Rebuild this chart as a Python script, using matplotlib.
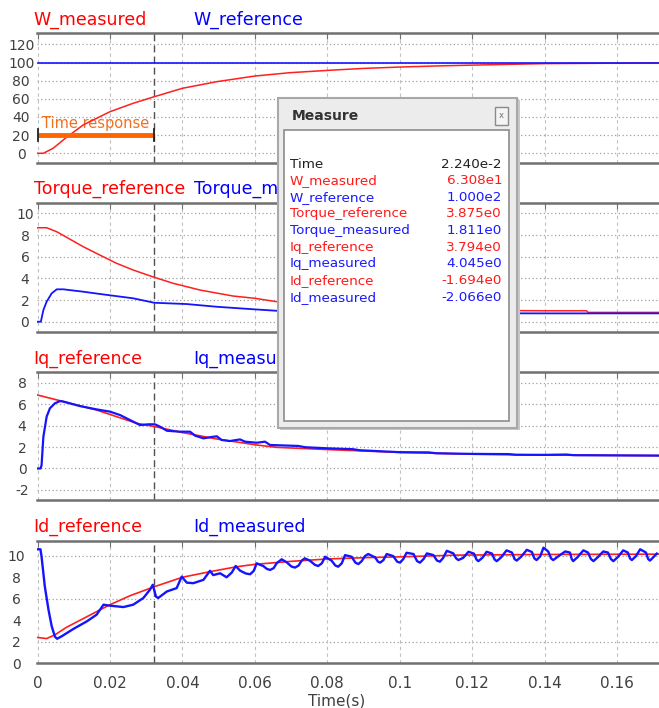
import matplotlib
matplotlib.use("Agg")
import matplotlib.pyplot as plt
from matplotlib.patches import Rectangle

# ---------------- data ----------------
# Speed loop
w_meas_t = [0, 0.0016, 0.0043, 0.008, 0.0126, 0.0172, 0.02, 0.0264, 0.0322, 0.04,
            0.0495, 0.06, 0.0697, 0.0808, 0.09, 0.1, 0.11, 0.122, 0.14, 0.172]
w_meas_v = [0, 0, 5.5, 17.6, 31.2, 40.3, 45.8, 55.1, 62.3, 71.6,
            78.9, 85.1, 88.8, 91.5, 93.5, 95.0, 96.2, 97.3, 98.8, 99.6]
w_ref_t = [0, 0.172]
w_ref_v = [100, 100]

# Torque
torque_ref_t = [0, 0.0025, 0.0053, 0.008, 0.0126, 0.0172, 0.0218, 0.0264, 0.0322, 0.0375,
                0.0449, 0.054, 0.06, 0.066, 0.08, 0.1, 0.12, 0.14, 0.1516, 0.152, 0.172]
torque_ref_v = [8.67, 8.67, 8.3, 7.79, 6.92, 6.15, 5.39, 4.77, 4.1, 3.54,
                2.92, 2.37, 2.16, 1.85, 1.5, 1.2, 1.05, 1.01, 1.01, 0.86, 0.86]
torque_meas_t = [0, 0.0009, 0.0016, 0.0025, 0.0039, 0.0053, 0.0071, 0.0126, 0.0172, 0.0264,
                 0.0322, 0.0412, 0.0495, 0.06, 0.066, 0.08, 0.1, 0.12, 0.14, 0.172]
torque_meas_v = [0, 0, 1.08, 1.85, 2.62, 2.99, 2.99, 2.77, 2.56, 2.16,
                 1.75, 1.63, 1.38, 1.14, 1.01, 0.9, 0.82, 0.78, 0.77, 0.77]

# q-axis current
iq_ref_t = [0, 0.0062, 0.0163, 0.0274, 0.0324, 0.0402, 0.0495, 0.0605, 0.066, 0.081,
            0.1, 0.12, 0.14, 0.172]
iq_ref_v = [6.85, 6.32, 5.45, 4.21, 3.9, 3.34, 2.75, 2.19, 1.97, 1.75,
            1.5, 1.33, 1.25, 1.2]
iq_meas_t = [0, 0.0008, 0.0011, 0.0016, 0.0025, 0.0034, 0.0048, 0.0062, 0.0071, 0.0117,
             0.0163, 0.02, 0.0228, 0.0255, 0.0283, 0.0306, 0.0324, 0.0338, 0.0357, 0.0393,
             0.0421, 0.0435, 0.0458, 0.0485, 0.0495, 0.0508, 0.0531, 0.0559, 0.0573, 0.0605,
             0.0628, 0.0642, 0.0669, 0.072, 0.074, 0.08, 0.087, 0.089, 0.1, 0.108,
             0.11, 0.12, 0.13, 0.132, 0.14, 0.146, 0.148, 0.16, 0.172]
iq_meas_v = [0, 0, 0.3, 2.96, 4.83, 5.61, 6.08, 6.29, 6.24, 5.82,
             5.51, 5.3, 4.98, 4.52, 4.05, 4.12, 4.12, 3.9, 3.52, 3.43,
             3.43, 3.06, 2.81, 2.96, 3.0, 2.66, 2.56, 2.71, 2.5, 2.4,
             2.5, 2.19, 2.16, 2.1, 1.98, 1.88, 1.8, 1.7, 1.52, 1.5,
             1.42, 1.36, 1.34, 1.28, 1.27, 1.3, 1.24, 1.22, 1.2]

# d-axis current
id_ref_t = [0, 0.0025, 0.0048, 0.008, 0.0117, 0.016, 0.02, 0.0255, 0.0324, 0.04,
            0.0476, 0.055, 0.06, 0.07, 0.08, 0.09, 0.1, 0.116, 0.14, 0.172]
id_ref_v = [2.4, 2.3, 2.65, 3.35, 4.0, 4.75, 5.45, 6.28, 7.14, 8.0,
            8.52, 8.98, 9.2, 9.48, 9.7, 9.82, 9.9, 10.06, 10.12, 10.15]
id_meas_t = [0, 0.0008, 0.0011, 0.002, 0.003, 0.0039, 0.0048, 0.0054, 0.0067, 0.0099,
             0.0136, 0.0163, 0.0182, 0.02, 0.0237, 0.0264, 0.0292, 0.031, 0.0318, 0.0327,
             0.0333, 0.0357, 0.0384, 0.0398, 0.0412, 0.043, 0.0458, 0.0476, 0.0485, 0.0504,
             0.0522, 0.0536, 0.0547,
             0.0559, 0.0575, 0.0587, 0.0597, 0.0605, 0.0615, 0.0623, 0.0633, 0.0642, 0.0652,
             0.066, 0.0674, 0.0688, 0.0701, 0.0711, 0.0721, 0.0729, 0.0738, 0.0752, 0.0766,
             0.0775, 0.0785, 0.0794, 0.0812, 0.0822, 0.083, 0.084, 0.0849, 0.0867, 0.0878,
             0.0886, 0.0895, 0.0904, 0.0913, 0.0932, 0.094, 0.0946, 0.0955, 0.0964, 0.0982,
             0.0993, 0.1001, 0.101, 0.1019, 0.1038, 0.1048, 0.1056, 0.1066, 0.1075, 0.1093,
             0.1103, 0.1111, 0.112, 0.113, 0.1148, 0.1156, 0.1162, 0.1175, 0.119, 0.1205,
             0.1212, 0.1217, 0.1228, 0.124, 0.1255, 0.1262, 0.1268, 0.128, 0.1295, 0.131,
             0.1317, 0.1323, 0.1335, 0.1351, 0.1365, 0.1372, 0.1378, 0.1388, 0.1397, 0.141,
             0.1418, 0.1424, 0.144, 0.1457, 0.147, 0.1475, 0.1479, 0.1492, 0.1507, 0.152,
             0.1528, 0.1535, 0.1548, 0.1562, 0.1575, 0.1583, 0.159, 0.1603, 0.1617, 0.163,
             0.1636, 0.1641, 0.1652, 0.1664, 0.168, 0.1686, 0.1691, 0.17, 0.171]
id_meas_v = [10.6, 10.6, 9.9, 7.14, 5.0, 3.44, 2.47, 2.28, 2.52, 3.2,
             3.9, 4.52, 5.45, 5.36, 5.23, 5.45, 6.07, 6.83, 7.3, 6.2,
             6.07, 6.68, 6.99, 8.06, 7.5, 7.45, 7.76, 8.6, 8.2, 8.37,
             8.0, 8.43, 9.05,
             8.62, 8.35, 8.28, 8.6, 9.3, 9.15, 9.05, 8.78, 8.68, 8.85,
             9.3, 9.67, 9.39, 9.0, 8.9, 9.1, 9.54, 9.76, 9.54, 9.15,
             9.05, 9.3, 9.91, 9.54, 9.1, 8.98, 9.3, 10.06, 9.91, 9.35,
             9.23, 9.5, 9.97, 10.16, 9.85, 9.45, 9.36, 9.6, 10.16, 9.97,
             9.45, 9.36, 9.7, 10.28, 10.16, 9.5, 9.36, 9.7, 10.22, 10.06,
             9.55, 9.45, 9.8, 10.46, 10.22, 9.75, 9.6, 9.8, 10.37, 10.2,
             9.65, 9.5, 9.8, 10.37, 10.2, 9.65, 9.5, 9.85, 10.5, 10.3,
             9.7, 9.55, 9.9, 10.55, 10.35, 9.75, 9.6, 9.95, 10.75, 10.4,
             9.75, 9.6, 10.0, 10.4, 10.3, 9.7, 9.5, 9.9, 10.5, 10.3,
             9.7, 9.5, 9.9, 10.4, 10.3, 9.7, 9.5, 9.9, 10.5, 10.3,
             9.75, 9.6, 9.95, 10.6, 10.3, 9.7, 9.55, 9.85, 10.2]

time_ticks = [0, 0.02, 0.04, 0.06, 0.08, 0.1, 0.12, 0.14, 0.16]
time_tick_labels = ["0", "0.02", "0.04", "0.06", "0.08", "0.1", "0.12", "0.14", "0.16"]
cursor_time = 0.0322

measure_names = ["W_measured", "W_reference", "Torque_reference", "Torque_measured",
                 "Iq_reference", "Iq_measured", "Id_reference", "Id_measured"]
measure_values = ["6.308e1", "1.000e2", "3.875e0", "1.811e0",
                  "3.794e0", "4.045e0", "-1.694e0", "-2.066e0"]
measure_colors = ["red", "blue", "red", "blue", "red", "blue", "red", "blue"]
measure_time = "2.240e-2"

# ---------------- figure ----------------
W, H = 659, 708
RED = "#ff1f1f"
BLUE = "#1414ff"
TXT = "#404040"
ROW_COLORS = {"red": "#ff1a1a", "blue": "#1a1aff"}

fig = plt.figure(figsize=(W / 100, H / 100), dpi=100)


def fx(x):
    return x / W


def fy(y):
    return 1 - y / H


left_px = 36.5
# (top_px, bottom_px, ylim, yticks, grid values, label pad)
panel_specs = [
    (33.3, 162.7, (-10.4, 132.2), list(range(0, 121, 20)), list(range(0, 121, 20)), 11.0),
    (202.7, 331.7, (-0.92, 10.98), list(range(0, 11, 2)), list(range(0, 11, 2)), 8.3),
    (372.3, 500.0, (-2.94, 8.97), list(range(-2, 9, 2)), list(range(-2, 9, 2)), 10.4),
    (540.7, 663.3, (0.05, 11.4), list(range(0, 11, 2)), [2, 6, 10], 14.4),
]

series = [
    ((w_meas_t, w_meas_v), (w_ref_t, w_ref_v), ("W_measured", "W_reference"), (1.1, 1.2)),
    ((torque_ref_t, torque_ref_v), (torque_meas_t, torque_meas_v),
     ("Torque_reference", "Torque_measured"), (1.1, 1.3)),
    ((iq_ref_t, iq_ref_v), (iq_meas_t, iq_meas_v), ("Iq_reference", "Iq_measured"), (1.2, 1.6)),
    ((id_ref_t, id_ref_v), (id_meas_t, id_meas_v), ("Id_reference", "Id_measured"), (1.2, 1.7)),
]

axes = []
for (top, bot, ylim, yt, yg, pad), (red_s, blue_s, names, lws) in zip(panel_specs, series):
    ax = fig.add_axes([fx(left_px), fy(bot), 1 - fx(left_px), (bot - top) / H])
    ax.set_xlim(-0.0003, 0.1716)
    ax.set_ylim(*ylim)
    for s in ("left", "right"):
        ax.spines[s].set_visible(False)
    for s in ("top", "bottom"):
        ax.spines[s].set_color("#707070")
        ax.spines[s].set_linewidth(1.8)
    for g in yg:
        ax.axhline(g, color="#a0a0a0", lw=0.9, dashes=(1, 2), zorder=0.5)
    for t in time_ticks:
        ax.axvline(t, color="#c0c0c0", lw=0.8, dashes=(3, 3), zorder=0.5)
    ax.axvline(cursor_time, color="#505050", lw=1.0, dashes=(5, 3), zorder=0.6)
    ax.set_yticks(yt)
    ax.set_yticklabels([str(v) for v in yt])
    ax.tick_params(axis="y", length=0, pad=pad, labelsize=10, labelcolor=TXT)
    for lab in ax.get_yticklabels():
        lab.set_horizontalalignment("center")
    ax.set_xticks(time_ticks)
    ax.tick_params(axis="x", top=True, bottom=False, direction="in", length=4,
                   color="#707070", labelbottom=False)
    ax.plot(red_s[0], red_s[1], color=RED, lw=lws[0], zorder=2)
    ax.plot(blue_s[0], blue_s[1], color=BLUE, lw=lws[1], zorder=3)
    ty = top - 13.5
    fig.text(fx(33.5), fy(ty), names[0], color="#ff0000", fontsize=12.5,
             ha="left", va="center", zorder=1)
    fig.text(fx(193.5), fy(ty), names[1], color="#0000ff", fontsize=12.5,
             ha="left", va="center", zorder=1)
    axes.append(ax)

ax1, ax2, ax3, ax4 = axes

# time-response marker on the speed panel
ax1.plot([0, cursor_time], [20, 20], color="#ff6400", lw=3.5, solid_capstyle="butt", zorder=4)
for t in (0, cursor_time):
    ax1.plot([t, t], [13, 27], color="#202020", lw=1.3, zorder=5)
ax1.text(cursor_time / 2, 33, "Time response", color="#f07020", fontsize=10.5,
         ha="center", va="center", zorder=1.5)

# time axis
ax4.tick_params(axis="x", labelbottom=True, pad=9, labelsize=11, labelcolor=TXT)
ax4.set_xticklabels(time_tick_labels)
fig.text(fx(337), fy(701), "Time(s)", fontsize=11, color=TXT, ha="center", va="center")


# ---------------- measurement window ----------------
def box(x0, y0, x1, y1, **kw):
    r = Rectangle((fx(x0), fy(y1)), fx(x1) - fx(x0), fy(y0) - fy(y1),
                  transform=fig.transFigure, **kw)
    fig.patches.append(r)
    return r


box(280, 100, 520, 430, facecolor="#c8c8c8", edgecolor="none", zorder=19)
box(278, 98, 517, 428, facecolor="#ececec", edgecolor="#a8a8a8", lw=1.5, zorder=20)
box(284, 130, 508.5, 421, facecolor="white", edgecolor="#8c8c8c", lw=1.2, zorder=21)
box(495, 107, 508, 125, facecolor="#f4f4f4", edgecolor="#8a8a8a", lw=1.0, zorder=21)
fig.text(fx(501.5), fy(116), "x", fontsize=6, color="#707070", ha="center", va="center",
         zorder=22)
fig.text(fx(291.5), fy(116), "Measure", fontsize=10, fontweight="bold", color="#333333",
         ha="left", va="center", zorder=22)

row_y0, row_dy = 164, 16.66
fig.text(fx(290), fy(row_y0), "Time", fontsize=9.7, color="#202020",
         ha="left", va="center", zorder=22)
fig.text(fx(502), fy(row_y0), measure_time, fontsize=9.7, color="#202020",
         ha="right", va="center", zorder=22)
for i, (name, val, c) in enumerate(zip(measure_names, measure_values, measure_colors)):
    col = ROW_COLORS[c]
    y = row_y0 + (i + 1) * row_dy
    fig.text(fx(290), fy(y), name, fontsize=9.7, color=col, ha="left", va="center", zorder=22)
    fig.text(fx(502), fy(y), val, fontsize=9.7, color=col, ha="right", va="center", zorder=22)

fig.savefig("out.png", dpi=100, facecolor="white")
